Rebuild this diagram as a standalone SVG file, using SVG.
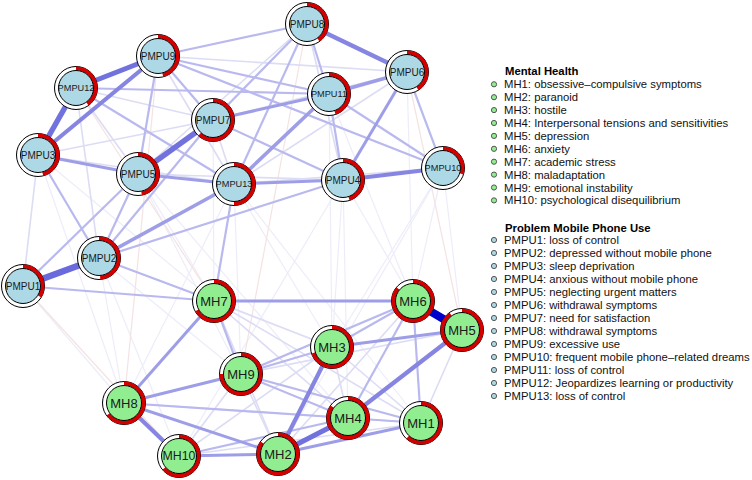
<svg xmlns="http://www.w3.org/2000/svg" width="752" height="480" viewBox="0 0 752 480">
<style>
line{fill:none}
.x{stroke:#ededfa;stroke-width:1.2}
.ng{stroke:#f5e2e2;stroke-width:1.2}
.f{stroke:#dcdcf5;stroke-width:1.6}
.l{stroke:#b9b9ef;stroke-width:2.2}
.m{stroke:#9e9ee8;stroke-width:3}
.s{stroke:#8686e2;stroke-width:4.2}
.t{stroke:#7272de;stroke-width:5.5}
.ring{fill:#fff;stroke:#000;stroke-width:1}
.pie{fill:none;stroke:#d40000;stroke-width:4}
.ip{fill:#add8e6;stroke:#000;stroke-width:1}
.im{fill:#90ee90;stroke:#000;stroke-width:1}
.lab{font-family:"Liberation Sans",Arial,sans-serif;fill:#1a1a1a;text-anchor:middle}
.lp{font-size:10px}
.lp2{font-size:9.2px}
.lm{font-size:13px}
.lm2{font-size:12.3px}
.leg{font-family:"Liberation Sans",Arial,sans-serif;font-size:11.3px;fill:#111}
.legt{font-family:"Liberation Sans",Arial,sans-serif;font-size:11.3px;font-weight:bold;fill:#000}
.bm{fill:#90ee90;stroke:#555;stroke-width:1}
.bp{fill:#add8e6;stroke:#555;stroke-width:1}
</style>
<rect width="752" height="480" fill="#fff"/>
<g id="edges">
<!-- very faint cross-cluster -->
<line class="x" x1="23" y1="286" x2="124" y2="403"/>
<line class="x" x1="99" y1="258" x2="124" y2="403"/>
<line class="x" x1="38" y1="155" x2="124" y2="403"/>
<line class="x" x1="443" y1="168" x2="413" y2="301"/>
<line class="x" x1="443" y1="168" x2="332" y2="347"/>
<line class="x" x1="343" y1="180" x2="332" y2="347"/>
<line class="x" x1="343" y1="180" x2="413" y2="301"/>
<line class="x" x1="234" y1="184" x2="241" y2="374"/>
<line class="x" x1="138" y1="174" x2="241" y2="374"/>
<line class="x" x1="99" y1="258" x2="241" y2="374"/>
<line class="x" x1="329" y1="94" x2="332" y2="347"/>
<line class="x" x1="443" y1="168" x2="462" y2="330"/>
<line class="x" x1="343" y1="180" x2="348" y2="418"/>
<line class="x" x1="407" y1="72" x2="413" y2="301"/>
<line class="x" x1="234" y1="184" x2="332" y2="347"/>
<line class="x" x1="138" y1="174" x2="214" y2="301"/>
<line class="x" x1="38" y1="155" x2="214" y2="301"/>
<line class="x" x1="213" y1="120" x2="214" y2="301"/>
<line class="x" x1="99" y1="258" x2="179" y2="456"/>
<line class="x" x1="234" y1="184" x2="421" y2="423"/>
<line class="x" x1="138" y1="174" x2="348" y2="418"/>
<line class="x" x1="343" y1="180" x2="179" y2="456"/>
<line class="x" x1="443" y1="168" x2="278" y2="454"/>
<line class="x" x1="329" y1="94" x2="413" y2="301"/>
<line class="x" x1="99" y1="258" x2="332" y2="347"/>
<line class="x" x1="234" y1="184" x2="124" y2="403"/>
<line class="ng" x1="76" y1="88" x2="214" y2="301"/>
<line class="ng" x1="158" y1="56" x2="124" y2="403"/>
<line class="ng" x1="23" y1="286" x2="179" y2="456"/>
<line class="ng" x1="407" y1="72" x2="462" y2="330"/>
<line class="ng" x1="307" y1="24" x2="241" y2="374"/>
<!-- faint -->
<line class="f" x1="307" y1="24" x2="138" y2="174"/>
<line class="f" x1="307" y1="24" x2="343" y2="180"/>
<line class="f" x1="213" y1="120" x2="234" y2="184"/>
<line class="f" x1="76" y1="88" x2="138" y2="174"/>
<line class="f" x1="76" y1="88" x2="213" y2="120"/>
<line class="f" x1="38" y1="155" x2="234" y2="184"/>
<line class="f" x1="38" y1="155" x2="213" y2="120"/>
<line class="f" x1="407" y1="72" x2="234" y2="184"/>
<line class="f" x1="407" y1="72" x2="213" y2="120"/>
<line class="f" x1="443" y1="168" x2="234" y2="184"/>
<line class="f" x1="138" y1="174" x2="343" y2="180"/>
<line class="f" x1="23" y1="286" x2="38" y2="155"/>
<line class="f" x1="76" y1="88" x2="99" y2="258"/>
<line class="f" x1="158" y1="56" x2="234" y2="184"/>
<line class="f" x1="407" y1="72" x2="158" y2="56"/>
<line class="f" x1="214" y1="301" x2="332" y2="347"/>
<line class="f" x1="214" y1="301" x2="348" y2="418"/>
<line class="f" x1="214" y1="301" x2="278" y2="454"/>
<line class="f" x1="179" y1="456" x2="421" y2="423"/>
<line class="f" x1="179" y1="456" x2="241" y2="374"/>
<line class="f" x1="124" y1="403" x2="421" y2="423"/>
<line class="f" x1="462" y1="330" x2="421" y2="423"/>
<line class="f" x1="332" y1="347" x2="348" y2="418"/>
<line class="f" x1="332" y1="347" x2="421" y2="423"/>
<line class="f" x1="241" y1="374" x2="278" y2="454"/>
<line class="f" x1="179" y1="456" x2="332" y2="347"/>
<line class="f" x1="413" y1="301" x2="278" y2="454"/>
<line class="f" x1="462" y1="330" x2="241" y2="374"/>
<line class="f" x1="214" y1="301" x2="421" y2="423"/>
<!-- light -->
<line class="l" x1="38" y1="155" x2="99" y2="258"/>
<line class="l" x1="99" y1="258" x2="343" y2="180"/>
<line class="l" x1="158" y1="56" x2="307" y2="24"/>
<line class="l" x1="307" y1="24" x2="329" y2="94"/>
<line class="l" x1="307" y1="24" x2="234" y2="184"/>
<line class="l" x1="76" y1="88" x2="234" y2="184"/>
<line class="l" x1="213" y1="120" x2="343" y2="180"/>
<line class="l" x1="214" y1="301" x2="241" y2="374"/>
<line class="l" x1="332" y1="347" x2="241" y2="374"/>
<line class="l" x1="241" y1="374" x2="348" y2="418"/>
<line class="l" x1="413" y1="301" x2="348" y2="418"/>
<line class="l" x1="413" y1="301" x2="332" y2="347"/>
<line class="l" x1="413" y1="301" x2="421" y2="423"/>
<line class="l" x1="348" y1="418" x2="421" y2="423"/>
<line class="l" x1="241" y1="374" x2="421" y2="423"/>
<line class="l" x1="179" y1="456" x2="348" y2="418"/>
<line class="l" x1="241" y1="374" x2="413" y2="301"/>
<line class="l" x1="23" y1="286" x2="214" y2="301"/>
<line class="l" x1="99" y1="258" x2="214" y2="301"/>
<line class="l" x1="234" y1="184" x2="214" y2="301"/>
<line class="l" x1="158" y1="56" x2="213" y2="120"/>
<line class="l" x1="158" y1="56" x2="329" y2="94"/>
<line class="l" x1="76" y1="88" x2="329" y2="94"/>
<line class="l" x1="158" y1="56" x2="443" y2="168"/>
<line class="l" x1="329" y1="94" x2="443" y2="168"/>
<line class="l" x1="329" y1="94" x2="343" y2="180"/>
<line class="l" x1="138" y1="174" x2="23" y2="286"/>
<line class="l" x1="99" y1="258" x2="138" y2="174"/>
<line class="l" x1="307" y1="24" x2="213" y2="120"/>
<line class="l" x1="158" y1="56" x2="138" y2="174"/>
<line class="l" x1="124" y1="403" x2="348" y2="418"/>
<line class="l" x1="407" y1="72" x2="443" y2="168"/>
<line class="l" x1="99" y1="258" x2="213" y2="120"/>
<!-- medium -->
<line class="m" x1="329" y1="94" x2="407" y2="72" style="stroke-width:3.6"/>
<line class="m" x1="329" y1="94" x2="234" y2="184" style="stroke-width:3.6"/>
<line class="m" x1="343" y1="180" x2="407" y2="72"/>
<line class="m" x1="38" y1="155" x2="138" y2="174"/>
<line class="m" x1="99" y1="258" x2="234" y2="184" style="stroke-width:3.6"/>
<line class="m" x1="329" y1="94" x2="213" y2="120"/>
<line class="m" x1="214" y1="301" x2="413" y2="301"/>
<line class="m" x1="214" y1="301" x2="124" y2="403"/>
<line class="m" x1="124" y1="403" x2="241" y2="374"/>
<line class="m" x1="124" y1="403" x2="278" y2="454"/>
<line class="m" x1="179" y1="456" x2="278" y2="454"/>
<line class="m" x1="278" y1="454" x2="421" y2="423"/>
<line class="m" x1="332" y1="347" x2="462" y2="330"/>
<line class="m" x1="234" y1="184" x2="343" y2="180"/>
<line class="m" x1="138" y1="174" x2="234" y2="184"/>
<!-- strong -->
<line class="s" x1="343" y1="180" x2="443" y2="168"/>
<line class="s" x1="124" y1="403" x2="179" y2="456"/>
<line class="s" x1="278" y1="454" x2="332" y2="347"/>
<line class="s" x1="348" y1="418" x2="462" y2="330"/>
<line class="s" x1="38" y1="155" x2="158" y2="56"/>
<line class="s" x1="307" y1="24" x2="407" y2="72"/>
<line class="t" x1="76" y1="88" x2="158" y2="56" style="stroke-width:5"/>
<line class="t" x1="38" y1="155" x2="76" y2="88"/>
<line class="t" x1="138" y1="174" x2="213" y2="120"/>
<line class="t" x1="278" y1="454" x2="348" y2="418" style="stroke-width:5"/>
<line class="t" x1="23" y1="286" x2="99" y2="258" style="stroke-width:6.5;stroke:#6a6adc"/>
<line x1="413" y1="301" x2="462" y2="330" style="stroke:#0000cc;stroke-width:8"/>
</g>
<g id="PMPU1"><circle class="ring" cx="23" cy="286" r="21.5"/><circle class="pie" cx="23" cy="286" r="19.5" pathLength="100" stroke-dasharray="34 100" transform="rotate(-90 23 286)"/><circle class="ip" cx="23" cy="286" r="17.5"/><text class="lab lp" x="23" y="289.5">PMPU1</text></g>
<g id="PMPU2"><circle class="ring" cx="99" cy="258" r="21.5"/><circle class="pie" cx="99" cy="258" r="19.5" pathLength="100" stroke-dasharray="49 100" transform="rotate(-90 99 258)"/><circle class="ip" cx="99" cy="258" r="17.5"/><text class="lab lp" x="99" y="261.5">PMPU2</text></g>
<g id="PMPU3"><circle class="ring" cx="38" cy="155" r="21.5"/><circle class="pie" cx="38" cy="155" r="19.5" pathLength="100" stroke-dasharray="46 100" transform="rotate(-90 38 155)"/><circle class="ip" cx="38" cy="155" r="17.5"/><text class="lab lp" x="38" y="158.5">PMPU3</text></g>
<g id="PMPU4"><circle class="ring" cx="343" cy="180" r="21.5"/><circle class="pie" cx="343" cy="180" r="19.5" pathLength="100" stroke-dasharray="45 100" transform="rotate(-90 343 180)"/><circle class="ip" cx="343" cy="180" r="17.5"/><text class="lab lp" x="343" y="183.5">PMPU4</text></g>
<g id="PMPU5"><circle class="ring" cx="138" cy="174" r="21.5"/><circle class="pie" cx="138" cy="174" r="19.5" pathLength="100" stroke-dasharray="47 100" transform="rotate(-90 138 174)"/><circle class="ip" cx="138" cy="174" r="17.5"/><text class="lab lp" x="138" y="177.5">PMPU5</text></g>
<g id="PMPU6"><circle class="ring" cx="407" cy="72" r="21.5"/><circle class="pie" cx="407" cy="72" r="19.5" pathLength="100" stroke-dasharray="41 100" transform="rotate(-90 407 72)"/><circle class="ip" cx="407" cy="72" r="17.5"/><text class="lab lp" x="407" y="75.5">PMPU6</text></g>
<g id="PMPU7"><circle class="ring" cx="213" cy="120" r="21.5"/><circle class="pie" cx="213" cy="120" r="19.5" pathLength="100" stroke-dasharray="62 100" transform="rotate(-90 213 120)"/><circle class="ip" cx="213" cy="120" r="17.5"/><text class="lab lp" x="213" y="123.5">PMPU7</text></g>
<g id="PMPU8"><circle class="ring" cx="307" cy="24" r="21.5"/><circle class="pie" cx="307" cy="24" r="19.5" pathLength="100" stroke-dasharray="40 100" transform="rotate(-90 307 24)"/><circle class="ip" cx="307" cy="24" r="17.5"/><text class="lab lp" x="307" y="27.5">PMPU8</text></g>
<g id="PMPU9"><circle class="ring" cx="158" cy="56" r="21.5"/><circle class="pie" cx="158" cy="56" r="19.5" pathLength="100" stroke-dasharray="46 100" transform="rotate(-90 158 56)"/><circle class="ip" cx="158" cy="56" r="17.5"/><text class="lab lp" x="158" y="59.5">PMPU9</text></g>
<g id="PMPU10"><circle class="ring" cx="443" cy="168" r="21.5"/><circle class="pie" cx="443" cy="168" r="19.5" pathLength="100" stroke-dasharray="30 100" transform="rotate(-90 443 168)"/><circle class="ip" cx="443" cy="168" r="17.5"/><text class="lab lp2" x="443" y="171.3">PMPU10</text></g>
<g id="PMPU11"><circle class="ring" cx="329" cy="94" r="21.5"/><circle class="pie" cx="329" cy="94" r="19.5" pathLength="100" stroke-dasharray="45 100" transform="rotate(-90 329 94)"/><circle class="ip" cx="329" cy="94" r="17.5"/><text class="lab lp2" x="329" y="97.3">PMPU11</text></g>
<g id="PMPU12"><circle class="ring" cx="76" cy="88" r="21.5"/><circle class="pie" cx="76" cy="88" r="19.5" pathLength="100" stroke-dasharray="40 100" transform="rotate(-90 76 88)"/><circle class="ip" cx="76" cy="88" r="17.5"/><text class="lab lp2" x="76" y="91.3">PMPU12</text></g>
<g id="PMPU13"><circle class="ring" cx="234" cy="184" r="21.5"/><circle class="pie" cx="234" cy="184" r="19.5" pathLength="100" stroke-dasharray="50 100" transform="rotate(-90 234 184)"/><circle class="ip" cx="234" cy="184" r="17.5"/><text class="lab lp2" x="234" y="187.3">PMPU13</text></g>
<g id="MH1"><circle class="ring" cx="421" cy="423" r="21.5"/><circle class="pie" cx="421" cy="423" r="19.5" pathLength="100" stroke-dasharray="62 100" transform="rotate(-90 421 423)"/><circle class="im" cx="421" cy="423" r="17.5"/><text class="lab lm" x="421" y="427.6">MH1</text></g>
<g id="MH2"><circle class="ring" cx="278" cy="454" r="21.5"/><circle class="pie" cx="278" cy="454" r="19.5" pathLength="100" stroke-dasharray="85 100" transform="rotate(-90 278 454)"/><circle class="im" cx="278" cy="454" r="17.5"/><text class="lab lm" x="278" y="458.6">MH2</text></g>
<g id="MH3"><circle class="ring" cx="332" cy="347" r="21.5"/><circle class="pie" cx="332" cy="347" r="19.5" pathLength="100" stroke-dasharray="70 100" transform="rotate(-90 332 347)"/><circle class="im" cx="332" cy="347" r="17.5"/><text class="lab lm" x="332" y="351.6">MH3</text></g>
<g id="MH4"><circle class="ring" cx="348" cy="418" r="21.5"/><circle class="pie" cx="348" cy="418" r="19.5" pathLength="100" stroke-dasharray="85 100" transform="rotate(-90 348 418)"/><circle class="im" cx="348" cy="418" r="17.5"/><text class="lab lm" x="348" y="422.6">MH4</text></g>
<g id="MH5"><circle class="ring" cx="462" cy="330" r="21.5"/><circle class="pie" cx="462" cy="330" r="19.5" pathLength="100" stroke-dasharray="90 100" transform="rotate(-90 462 330)"/><circle class="im" cx="462" cy="330" r="17.5"/><text class="lab lm" x="462" y="334.6">MH5</text></g>
<g id="MH6"><circle class="ring" cx="413" cy="301" r="21.5"/><circle class="pie" cx="413" cy="301" r="19.5" pathLength="100" stroke-dasharray="86 100" transform="rotate(-90 413 301)"/><circle class="im" cx="413" cy="301" r="17.5"/><text class="lab lm" x="413" y="305.6">MH6</text></g>
<g id="MH7"><circle class="ring" cx="214" cy="301" r="21.5"/><circle class="pie" cx="214" cy="301" r="19.5" pathLength="100" stroke-dasharray="67 100" transform="rotate(-90 214 301)"/><circle class="im" cx="214" cy="301" r="17.5"/><text class="lab lm" x="214" y="305.6">MH7</text></g>
<g id="MH8"><circle class="ring" cx="124" cy="403" r="21.5"/><circle class="pie" cx="124" cy="403" r="19.5" pathLength="100" stroke-dasharray="65 100" transform="rotate(-90 124 403)"/><circle class="im" cx="124" cy="403" r="17.5"/><text class="lab lm" x="124" y="407.6">MH8</text></g>
<g id="MH9"><circle class="ring" cx="241" cy="374" r="21.5"/><circle class="pie" cx="241" cy="374" r="19.5" pathLength="100" stroke-dasharray="75 100" transform="rotate(-90 241 374)"/><circle class="im" cx="241" cy="374" r="17.5"/><text class="lab lm" x="241" y="378.6">MH9</text></g>
<g id="MH10"><circle class="ring" cx="179" cy="456" r="21.5"/><circle class="pie" cx="179" cy="456" r="19.5" pathLength="100" stroke-dasharray="64 100" transform="rotate(-90 179 456)"/><circle class="im" cx="179" cy="456" r="17.5"/><text class="lab lm2" x="179" y="460.4">MH10</text></g>
<g id="legend">
<text class="legt" x="505" y="75.4">Mental Health</text>
<circle class="bm" cx="494" cy="84.3" r="2.6"/><text class="leg" x="504" y="88.3">MH1: obsessive–compulsive symptoms</text>
<circle class="bm" cx="494" cy="97.2" r="2.6"/><text class="leg" x="504" y="101.2">MH2: paranoid</text>
<circle class="bm" cx="494" cy="110.1" r="2.6"/><text class="leg" x="504" y="114.1">MH3: hostile</text>
<circle class="bm" cx="494" cy="123.0" r="2.6"/><text class="leg" x="504" y="127.0">MH4: Interpersonal tensions and sensitivities</text>
<circle class="bm" cx="494" cy="135.9" r="2.6"/><text class="leg" x="504" y="139.9">MH5: depression</text>
<circle class="bm" cx="494" cy="148.8" r="2.6"/><text class="leg" x="504" y="152.8">MH6: anxiety</text>
<circle class="bm" cx="494" cy="161.7" r="2.6"/><text class="leg" x="504" y="165.7">MH7: academic stress</text>
<circle class="bm" cx="494" cy="174.6" r="2.6"/><text class="leg" x="504" y="178.6">MH8: maladaptation</text>
<circle class="bm" cx="494" cy="187.5" r="2.6"/><text class="leg" x="504" y="191.5">MH9: emotional instability</text>
<circle class="bm" cx="494" cy="200.4" r="2.6"/><text class="leg" x="504" y="204.4">MH10: psychological disequilibrium</text>
<text class="legt" x="505" y="231.7">Problem Mobile Phone Use</text>
<circle class="bp" cx="494" cy="240" r="2.6"/><text class="leg" x="504" y="244">PMPU1: loss of control</text>
<circle class="bp" cx="494" cy="253" r="2.6"/><text class="leg" x="504" y="257">PMPU2: depressed without mobile phone</text>
<circle class="bp" cx="494" cy="266" r="2.6"/><text class="leg" x="504" y="270">PMPU3: sleep deprivation</text>
<circle class="bp" cx="494" cy="279" r="2.6"/><text class="leg" x="504" y="283">PMPU4: anxious without mobile phone</text>
<circle class="bp" cx="494" cy="292" r="2.6"/><text class="leg" x="504" y="296">PMPU5: neglecting urgent matters</text>
<circle class="bp" cx="494" cy="305" r="2.6"/><text class="leg" x="504" y="309">PMPU6: withdrawal symptoms</text>
<circle class="bp" cx="494" cy="318" r="2.6"/><text class="leg" x="504" y="322">PMPU7: need for satisfaction</text>
<circle class="bp" cx="494" cy="331" r="2.6"/><text class="leg" x="504" y="335">PMPU8: withdrawal symptoms</text>
<circle class="bp" cx="494" cy="344" r="2.6"/><text class="leg" x="504" y="348">PMPU9: excessive use</text>
<circle class="bp" cx="494" cy="357" r="2.6"/><text class="leg" x="504" y="361">PMPU10: frequent mobile phone–related dreams</text>
<circle class="bp" cx="494" cy="370" r="2.6"/><text class="leg" x="504" y="374">PMPU11: loss of control</text>
<circle class="bp" cx="494" cy="383" r="2.6"/><text class="leg" x="504" y="387">PMPU12: Jeopardizes learning or productivity</text>
<circle class="bp" cx="494" cy="396" r="2.6"/><text class="leg" x="504" y="400">PMPU13: loss of control</text>
</g>
</svg>
